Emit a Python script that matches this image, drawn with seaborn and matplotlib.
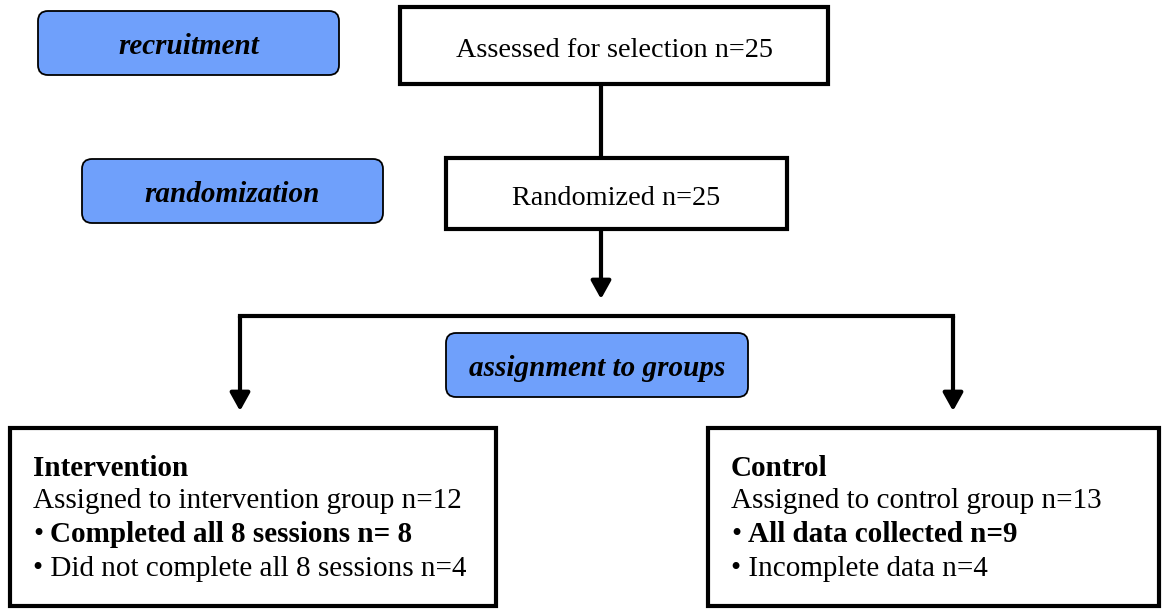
import matplotlib
matplotlib.use("Agg")
import matplotlib.pyplot as plt
from matplotlib.patches import FancyBboxPatch, Rectangle
import seaborn as sns

# flow content
stage_labels = ["recruitment", "randomization", "assignment to groups"]
step_labels = ["Assessed for selection", "Randomized"]
step_n = [25, 25]
group_names = ["Intervention", "Control"]
group_assigned = ["Assigned to intervention group", "Assigned to control group"]
group_n = [12, 13]
kept_labels = ["Completed all 8 sessions n= ", "All data collected n="]
kept_n = [8, 9]
lost_labels = ["Did not complete all 8 sessions n=", "Incomplete data n="]
lost_n = [4, 4]

# layout in pixel units (y downward)
stage_boxes = [(38, 11, 301, 64), (82, 159, 301, 64), (446, 333, 302, 64)]
step_boxes = [(400, 7, 428, 77), (446, 158, 341, 71)]
group_boxes = [(10, 428, 486, 178), (708, 428, 451, 178)]
blue = "#6fa0fb"

sns.set_theme(style="white")
plt.rcParams["font.family"] = ["Liberation Serif", "DejaVu Serif"]
plt.rcParams["text.color"] = "black"

fig = plt.figure(figsize=(11.63, 6.10), dpi=100)
ax = fig.add_axes([0, 0, 1, 1])
ax.set_xlim(0, 1163)
ax.set_ylim(610, 0)
ax.axis("off")

for (x, y, w, h), lab in zip(stage_boxes, stage_labels):
    ax.add_patch(FancyBboxPatch((x, y), w, h, boxstyle="round,pad=0,rounding_size=10",
                                fc=blue, ec="black", lw=1.3))
    ax.text(x + w / 2, y + h / 2 + 3, lab, ha="center", va="center",
            fontsize=21, fontweight="bold", fontstyle="italic")

for (x, y, w, h), lab, n in zip(step_boxes, step_labels, step_n):
    ax.add_patch(Rectangle((x, y), w, h, fc="white", ec="black", lw=3))
    ax.text(x + w / 2, y + h / 2 + 5, f"{lab} n={n}", ha="center", va="center", fontsize=20.3)

line_kw = dict(color="black", lw=3, solid_capstyle="butt")
arrow_kw = dict(arrowstyle="-|>,head_length=0.9,head_width=0.5", color="black", lw=3,
                shrinkA=0, shrinkB=0)

# connectors
ax.plot([601, 601], [84, 158], **line_kw)
ax.annotate("", xy=(601, 299), xytext=(601, 229), arrowprops=arrow_kw)
ax.plot([240, 953], [316, 316], color="black", lw=3, solid_capstyle="projecting")
ax.annotate("", xy=(240, 411), xytext=(240, 316), arrowprops=arrow_kw)
ax.annotate("", xy=(953, 411), xytext=(953, 316), arrowprops=arrow_kw)

for i, (x, y, w, h) in enumerate(group_boxes):
    ax.add_patch(Rectangle((x, y), w, h, fc="white", ec="black", lw=3))
    tx = x + 23
    ax.text(tx, 469, group_names[i], ha="left", va="center", fontsize=21, fontweight="bold")
    ax.text(tx, 501, f"{group_assigned[i]} n={group_n[i]}", ha="left", va="center", fontsize=21)
    ax.text(tx, 535, "\u2022", ha="left", va="center", fontsize=21)
    ax.text(tx + 17, 535, f"{kept_labels[i]}{kept_n[i]}", ha="left", va="center",
            fontsize=21, fontweight="bold")
    ax.text(tx, 569, f"\u2022 {lost_labels[i]}{lost_n[i]}", ha="left", va="center", fontsize=21)

fig.savefig("out.png", dpi=100)
